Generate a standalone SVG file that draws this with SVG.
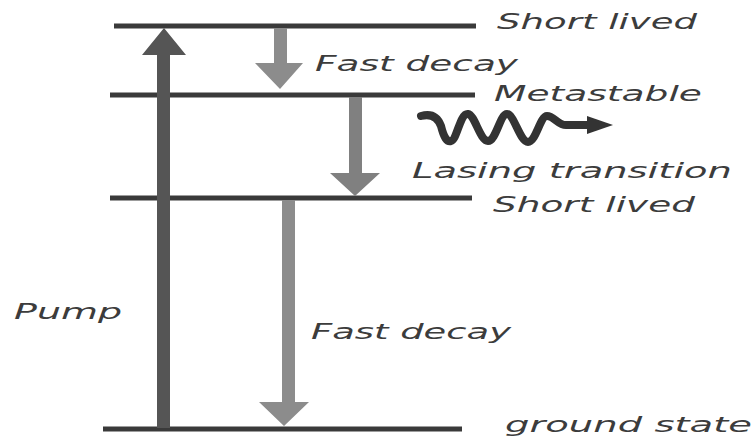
<svg xmlns="http://www.w3.org/2000/svg" width="756" height="441" viewBox="0 0 756 441">
  <style>
    .level { stroke: #3a3a3a; stroke-width: 5; fill: none; }
    .lbl { font-family: "DejaVu Sans", "Liberation Sans", sans-serif; font-style: italic; font-size: 21px; fill: #3c3c3c; }
    .pump { fill: #555555; }
    .decay { fill: #8c8c8c; }
    .lase { fill: #808080; }
    .wave { stroke: #333333; stroke-width: 8; fill: none; stroke-linecap: round; stroke-linejoin: round; }
  </style>

  <!-- energy levels -->
  <g id="level-short-lived-upper">
    <line class="level" x1="114" y1="26" x2="476" y2="26"/>
    <text class="lbl" x="497" y="29" textLength="200" lengthAdjust="spacingAndGlyphs">Short lived</text>
  </g>
  <g id="level-metastable">
    <line class="level" x1="110" y1="95" x2="475" y2="95"/>
    <text class="lbl" x="494" y="101" textLength="208" lengthAdjust="spacingAndGlyphs">Metastable</text>
  </g>
  <g id="level-short-lived-lower">
    <line class="level" x1="110" y1="198" x2="472" y2="198"/>
    <text class="lbl" x="493" y="212" textLength="202" lengthAdjust="spacingAndGlyphs">Short lived</text>
  </g>
  <g id="level-ground">
    <line class="level" x1="103" y1="429" x2="462" y2="429"/>
    <text class="lbl" x="505" y="432" textLength="247" lengthAdjust="spacingAndGlyphs">ground state</text>
  </g>

  <!-- transitions -->
  <g id="connectors">
    <!-- pump: ground to upper short-lived -->
    <g id="pump-arrow">
      <polygon class="pump" points="157,428 170,428 170,55 186,55 164,28 142,55 157,55"/>
    </g>
    <!-- fast decay: upper short-lived to metastable -->
    <g id="fast-decay-upper">
      <polygon class="decay" points="274,28 287,28 287,63 303,63 280,89 255,63 274,63"/>
    </g>
    <!-- lasing transition: metastable to lower short-lived -->
    <g id="lasing-arrow">
      <polygon class="lase" points="349,97 362,97 362,173 380,173 355,196 330,173 349,173"/>
    </g>
    <!-- fast decay: lower short-lived to ground -->
    <g id="fast-decay-lower">
      <polygon class="decay" points="282,200 295,200 295,402 309,402 284,426 259,402 282,402"/>
    </g>
    <!-- emitted photon -->
    <g id="photon">
      <path class="wave" d="M421,116 C432,113 438,118 441,126 C444,138 447,142 451,141 C457,140 460,113 468,114 C475,115 480,141 488,141 C496,141 500,114 507,114 C514,114 520,142 528,142 C536,142 540,116 547,116 C554,116 558,125 566,125 L592,125"/>
      <polygon fill="#333333" points="587,116 613,125 587,134"/>
    </g>
  </g>

  <!-- transition labels -->
  <g id="labels">
    <text class="lbl" x="315" y="71" textLength="203" lengthAdjust="spacingAndGlyphs">Fast decay</text>
    <text class="lbl" x="412" y="178" textLength="320" lengthAdjust="spacingAndGlyphs">Lasing transition</text>
    <text class="lbl" x="14" y="319" textLength="108" lengthAdjust="spacingAndGlyphs">Pump</text>
    <text class="lbl" x="311" y="339" textLength="200" lengthAdjust="spacingAndGlyphs">Fast decay</text>
  </g>
</svg>
